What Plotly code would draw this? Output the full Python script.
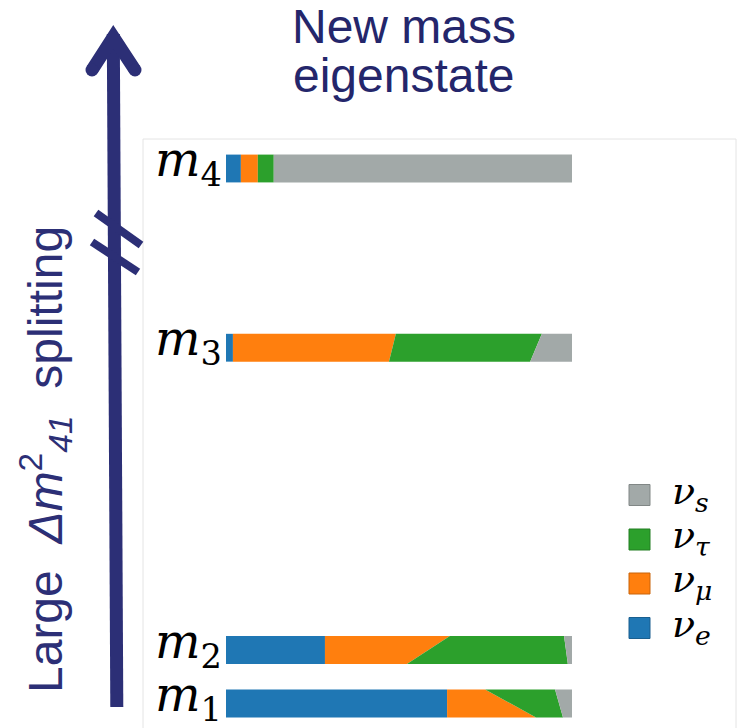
import plotly.graph_objects as go

# ---------------- data ----------------
states = ["1", "2", "3", "4"]                      # mass eigenstate index
flavors = ["e", "μ", "τ", "s"]                      # flavour content
# flavour fractions along the top edge and bottom edge of each bar
m1_top = [0.639, 0.110, 0.202, 0.049]
m1_bot = [0.639, 0.257, 0.078, 0.026]
m2_top = [0.286, 0.361, 0.330, 0.023]
m2_bot = [0.286, 0.237, 0.465, 0.012]
m3_top = [0.020, 0.471, 0.422, 0.087]
m3_bot = [0.020, 0.451, 0.408, 0.121]
m4_top = [0.043, 0.049, 0.046, 0.862]
m4_bot = [0.043, 0.049, 0.046, 0.862]

top_fracs = [m1_top, m2_top, m3_top, m4_top]
bot_fracs = [m1_bot, m2_bot, m3_bot, m4_bot]

# ---------------- style / layout ----------------
W, H = 742, 728
level_y = [0.0, 1.0, 6.65, 10.0]   # vertical placement of the levels
half_h = 0.26
colors = {"e": "#1f77b4", "μ": "#ff7f0e", "τ": "#2ca02c", "s": "#a2a9a8"}
edge = {"e": "#1a5f8f", "μ": "#c9650b", "τ": "#237f23", "s": "#818786"}
navy = "#2c2f76"
title_col = "#24266b"

PX_PER_X = 346.0
X0_PX = 226.0
PX_PER_Y = 53.5
Y0_PX = 703.5

def px(x):
    return x / W

def py(y):
    return 1 - y / H

fig = go.Figure()

for i, st in enumerate(states):
    yc = level_y[i]
    ct = 0.0
    cb = 0.0
    for j, fl in enumerate(flavors):
        t0, b0 = ct, cb
        ct += top_fracs[i][j]
        cb += bot_fracs[i][j]
        fig.add_trace(go.Scatter(
            x=[t0, ct, cb, b0, t0],
            y=[yc + half_h, yc + half_h, yc - half_h, yc - half_h, yc + half_h],
            fill="toself", fillcolor=colors[fl], mode="lines",
            line=dict(width=0, color=colors[fl]),
            hoverinfo="skip", showlegend=False))

fig.update_xaxes(range=[-X0_PX / PX_PER_X, (W - X0_PX) / PX_PER_X],
                 domain=[0, 1], visible=False, fixedrange=True)
fig.update_yaxes(range=[(Y0_PX - H) / PX_PER_Y, Y0_PX / PX_PER_Y],
                 domain=[0, 1], visible=False, fixedrange=True)

shapes = []
annotations = []

# frame
shapes.append(dict(type="rect", xref="paper", yref="paper",
                   x0=px(143), x1=px(736), y0=py(139), y1=py(760),
                   line=dict(color="#e4e4e4", width=1), layer="below"))

# mass labels
for i, st in enumerate(states):
    annotations.append(dict(
        x=-0.006, y=level_y[i], xref="x", yref="y",
        text="<i>m</i><sub>%s</sub>" % st, showarrow=False,
        xanchor="right", yanchor="middle", yshift=6,
        font=dict(family="DejaVu Serif", size=48, color="black")))

# legend (top: s, tau, mu, e)
leg_y = [495, 539.5, 583.5, 628]
for k, fl in enumerate(["s", "τ", "μ", "e"]):
    yc = leg_y[k]
    shapes.append(dict(type="rect", xref="paper", yref="paper",
                       x0=px(629), x1=px(650), y0=py(yc - 10.5), y1=py(yc + 10.5),
                       fillcolor=colors[fl], line=dict(color=edge[fl], width=1)))
    annotations.append(dict(
        x=px(670), y=py(yc), xref="paper", yref="paper",
        text="<i>ν</i><sub><i>%s</i></sub>" % fl, showarrow=False,
        xanchor="left", yanchor="middle", yshift=2,
        font=dict(family="DejaVu Serif", size=38, color="black")))

# title
annotations.append(dict(x=px(404), y=py(27), xref="paper", yref="paper",
                        text="New mass", showarrow=False,
                        xanchor="center", yanchor="middle",
                        font=dict(family="Liberation Sans", size=48, color=title_col)))
annotations.append(dict(x=px(404), y=py(76), xref="paper", yref="paper",
                        text="eigenstate", showarrow=False,
                        xanchor="center", yanchor="middle",
                        font=dict(family="Liberation Sans", size=48, color=title_col)))

# vertical axis label
nb = "\u00a0"
annotations.append(dict(x=px(45), y=py(460), xref="paper", yref="paper",
                        text="Large" + nb * 2 + "<i>Δm</i><sup>2</sup><sub><i>41</i></sub>" + nb * 2 + "splitting",
                        showarrow=False, textangle=-90,
                        xanchor="center", yanchor="middle",
                        font=dict(family="Liberation Sans", size=48, color=navy)))

# big arrow
shapes.append(dict(type="line", xref="paper", yref="paper",
                   x0=px(116.8), y0=py(707), x1=px(113.3), y1=py(34),
                   line=dict(color=navy, width=13)))
shapes.append(dict(type="path", xref="paper", yref="paper",
                   path="M %f,%f L %f,%f L %f,%f" % (px(92), py(70), px(113.3), py(37), px(135), py(70)),
                   line=dict(color=navy, width=13)))
for cx, cy in [(92, 70), (135, 70)]:
    shapes.append(dict(type="circle", xref="paper", yref="paper",
                       x0=px(cx - 6.5), x1=px(cx + 6.5), y0=py(cy - 6.5), y1=py(cy + 6.5),
                       fillcolor=navy, line=dict(width=0)))
# axis break marks
for (xa, ya, xb, yb) in [(96, 213, 141, 245), (92, 242, 138, 272)]:
    shapes.append(dict(type="line", xref="paper", yref="paper",
                       x0=px(xa), y0=py(ya), x1=px(xb), y1=py(yb),
                       line=dict(color=navy, width=8)))

fig.update_layout(width=W, height=H, margin=dict(l=0, r=0, t=0, b=0),
                  paper_bgcolor="white", plot_bgcolor="rgba(0,0,0,0)",
                  shapes=shapes, annotations=annotations, showlegend=False)

fig.write_html("out.html")
